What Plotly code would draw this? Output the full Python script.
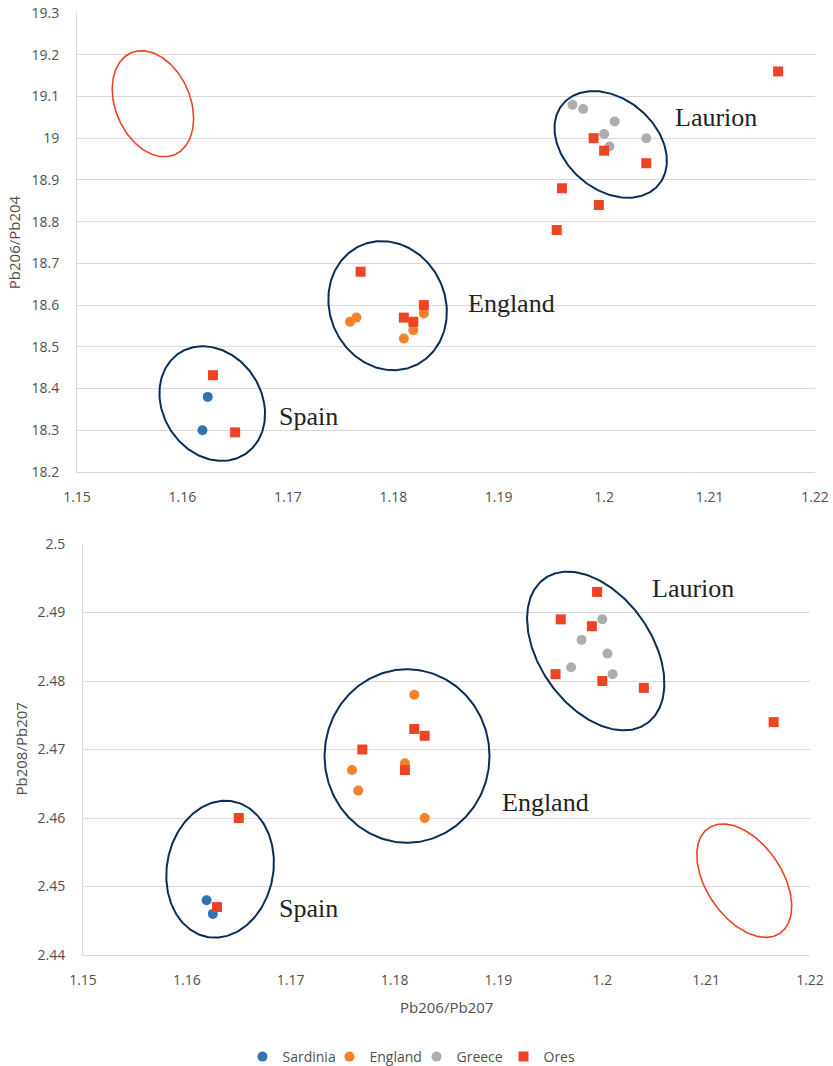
import numpy as np
import plotly.graph_objects as go

# ---------------- data ----------------
series_names = ["Sardinia", "England", "Greece", "Ores"]

sardinia_x_top = [1.1624, 1.1619]
sardinia_y_204 = [18.38, 18.30]
sardinia_x_bot = [1.1619, 1.1625]
sardinia_y_207 = [2.448, 2.446]

england_x = [1.1759, 1.1765, 1.1810, 1.1819, 1.1829]
england_y_204 = [18.56, 18.57, 18.52, 18.54, 18.58]
england_y_207 = [2.467, 2.464, 2.468, 2.478, 2.460]

greece_x = [1.1970, 1.1980, 1.2010, 1.2000, 1.2005, 1.2040]
greece_y_204 = [19.08, 19.07, 19.04, 19.01, 18.98, 19.00]
greece_y_207 = [2.482, 2.486, 2.481, 2.489, 2.484, 2.479]

ores_x = [1.1629, 1.1650, 1.1769, 1.1810, 1.1819, 1.1829, 1.1990,
          1.2000, 1.2040, 1.1960, 1.1995, 1.1955, 1.2165]
ores_y_204 = [18.432, 18.295, 18.68, 18.57, 18.56, 18.60, 19.00,
              18.97, 18.94, 18.88, 18.84, 18.78, 19.16]
ores_y_207 = [2.447, 2.460, 2.470, 2.467, 2.473, 2.472, 2.488,
              2.480, 2.479, 2.489, 2.493, 2.481, 2.474]

x_tickvals = [1.15, 1.16, 1.17, 1.18, 1.19, 1.20, 1.21, 1.22]
x_ticktext = ["1.15", "1.16", "1.17", "1.18", "1.19", "1.2", "1.21", "1.22"]
y204_tickvals = [18.2, 18.3, 18.4, 18.5, 18.6, 18.7, 18.8, 18.9, 19.0, 19.1, 19.2, 19.3]
y204_ticktext = ["18.2", "18.3", "18.4", "18.5", "18.6", "18.7", "18.8", "18.9", "19", "19.1", "19.2", "19.3"]
y207_tickvals = [2.44, 2.45, 2.46, 2.47, 2.48, 2.49, 2.50]
y207_ticktext = ["2.44", "2.45", "2.46", "2.47", "2.48", "2.49", "2.5"]

# group labels (text, x, y)
labels_top = [("Laurion", 1.2106, 19.05), ("England", 1.1912, 18.604), ("Spain", 1.1720, 18.332)]
labels_bot = [("Laurion", 1.2087, 2.4935), ("England", 1.1945, 2.4622), ("Spain", 1.1717, 2.4468)]

# ellipses: (cx, cy, half-width, half-height, x-offset of top point, colour key)
ellipses_top = [
    (1.1572, 19.0825, 0.00386, 0.127, -0.00107, "red"),
    (1.16283, 18.364, 0.00501, 0.1374, -0.0009, "navy"),
    (1.17946, 18.5986, 0.00562, 0.1547, -0.00055, "navy"),
    (1.20062, 18.985, 0.00533, 0.1278, -0.00163, "navy"),
]
ellipses_bot = [
    (1.16320, 2.45253, 0.00518, 0.0100, 0.0005, "navy"),
    (1.1812, 2.46905, 0.00794, 0.01266, 0.0, "navy"),
    (1.19937, 2.48438, 0.00661, 0.01158, -0.0027, "navy"),
    (1.21367, 2.45085, 0.00457, 0.00828, -0.00207, "red"),
]

# ---------------- styles ----------------
colors = {"Sardinia": "#2E75B6", "England": "#F5822A", "Greece": "#ADADAD", "Ores": "#EE4424"}
ell_colors = {"navy": "#0B2D57", "red": "#EE4424"}
ell_widths = {"navy": 2, "red": 1.6}
tick_font = dict(family="Open Sans", size=14, color="#505050")
W, H = 833, 1066

fig = go.Figure()


def add_ellipses(ells, xa, ya):
    t = np.linspace(0, 2 * np.pi, 240)
    for cx, cy, rx, ry, s, ck in ells:
        ex = cx + s * np.sin(t) + np.sqrt(rx ** 2 - s ** 2) * np.cos(t)
        ey = cy + ry * np.sin(t)
        fig.add_trace(go.Scatter(x=ex, y=ey, mode="lines", xaxis=xa, yaxis=ya,
                                 line=dict(color=ell_colors[ck], width=ell_widths[ck]),
                                 showlegend=False, hoverinfo="skip"))


add_ellipses(ellipses_top, "x", "y")
add_ellipses(ellipses_bot, "x2", "y2")

top_data = [("Sardinia", sardinia_x_top, sardinia_y_204), ("England", england_x, england_y_204),
            ("Greece", greece_x, greece_y_204), ("Ores", ores_x, ores_y_204)]
bot_data = [("Sardinia", sardinia_x_bot, sardinia_y_207), ("England", england_x, england_y_207),
            ("Greece", greece_x, greece_y_207), ("Ores", ores_x, ores_y_207)]

for name, xs, ys in top_data:
    fig.add_trace(go.Scatter(x=xs, y=ys, mode="markers", name=name, xaxis="x", yaxis="y",
                             marker=dict(color=colors[name], size=10,
                                         symbol="square" if name == "Ores" else "circle"),
                             showlegend=False))
for name, xs, ys in bot_data:
    fig.add_trace(go.Scatter(x=xs, y=ys, mode="markers", name=name, xaxis="x2", yaxis="y2",
                             marker=dict(color=colors[name], size=10,
                                         symbol="square" if name == "Ores" else "circle"),
                             showlegend=True))

annotations = []
for txt, x, y in labels_top:
    annotations.append(dict(text=txt, x=x, y=y, xref="x", yref="y", showarrow=False,
                            font=dict(family="Liberation Serif", size=26, color="#222222")))
for txt, x, y in labels_bot:
    annotations.append(dict(text=txt, x=x, y=y, xref="x2", yref="y2", showarrow=False,
                            font=dict(family="Liberation Serif", size=26, color="#222222")))

title_font = dict(family="Open Sans", size=15, color="#505050")
annotations.append(dict(text="Pb206/Pb204", x=13.7 / W, y=1 - 242.5 / H, xref="paper", yref="paper",
                        textangle=-90, showarrow=False, font=title_font, xanchor="center", yanchor="middle"))
annotations.append(dict(text="Pb208/Pb207", x=20 / W, y=1 - 749.5 / H, xref="paper", yref="paper",
                        textangle=-90, showarrow=False, font=title_font, xanchor="center", yanchor="middle"))
annotations.append(dict(text="Pb206/Pb207", x=446.5 / W, y=1 - 1007 / H, xref="paper", yref="paper",
                        showarrow=False, font=title_font, xanchor="center", yanchor="middle"))

axis_common = dict(showline=True, linecolor="#D9D9D9", linewidth=1, zeroline=False,
                   tickfont=tick_font, ticks="", fixedrange=True, automargin=False)

fig.update_layout(
    template="none",
    width=W, height=H,
    margin=dict(l=0, r=0, t=0, b=0, autoexpand=False),
    paper_bgcolor="white", plot_bgcolor="white",
    xaxis=dict(domain=[77 / W, 815 / W], anchor="y", range=[1.15, 1.22],
               tickvals=x_tickvals, ticktext=x_ticktext, showgrid=False,
               ticklabelstandoff=12, **axis_common),
    yaxis=dict(domain=[1 - 472 / H, 1 - 13 / H], anchor="x", range=[18.2, 19.3],
               tickvals=y204_tickvals, ticktext=y204_ticktext, showgrid=True,
               gridcolor="#D9D9D9", gridwidth=1, ticklabelstandoff=14, **axis_common),
    xaxis2=dict(domain=[83 / W, 810 / W], anchor="y2", range=[1.15, 1.22],
                tickvals=x_tickvals, ticktext=x_ticktext, showgrid=False,
                ticklabelstandoff=12, **axis_common),
    yaxis2=dict(domain=[1 - 955 / H, 1 - 544 / H], anchor="x2", range=[2.44, 2.50],
                tickvals=y207_tickvals, ticktext=y207_ticktext, showgrid=True,
                gridcolor="#D9D9D9", gridwidth=1, ticklabelstandoff=14, **axis_common),
    legend=dict(orientation="h", x=0.5, xanchor="center", y=1 - 1057 / H, yanchor="middle",
                font=dict(family="Open Sans", size=14, color="#505050"),
                itemwidth=30, entrywidth=42, entrywidthmode="pixels",
                tracegroupgap=0, bgcolor="rgba(0,0,0,0)"),
    annotations=annotations,
    showlegend=True,
)

fig.write_html("out.html", config={"displayModeBar": False},
               post_script="document.body.style.margin='0';")
